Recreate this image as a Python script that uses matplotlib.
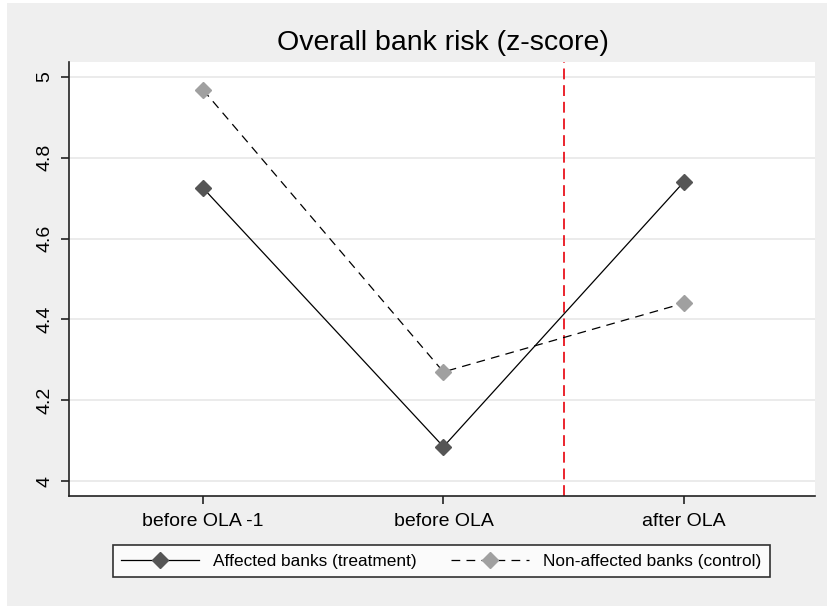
import matplotlib
matplotlib.use("Agg")
import matplotlib.pyplot as plt
from matplotlib.patches import Rectangle

plt.rcParams['font.family'] = ['Liberation Sans', 'DejaVu Sans']

categories = ["before OLA -1", "before OLA", "after OLA"]
affected = [4.725, 4.085, 4.74]
control = [4.968, 4.27, 4.44]
yticks = [4, 4.2, 4.4, 4.6, 4.8, 5]
ytick_labels = ["4", "4.2", "4.4", "4.6", "4.8", "5"]
event_line = 2.5

W, H = 827, 606
fig = plt.figure(figsize=(W / 100, H / 100), dpi=100)
fig.patch.set_facecolor("white")
bg = Rectangle((7 / W, 0), 1 - 7 / W, 1 - 3 / H, transform=fig.transFigure,
               facecolor="#efefef", edgecolor="none", zorder=-10)
fig.patches.append(bg)

ax = fig.add_axes([69 / W, 1 - 496 / H, (815 - 69) / W, (496 - 62) / H])
ax.set_zorder(1)
ax.set_facecolor("white")
x = [1, 2, 3]
ax.plot(x, affected, color="black", lw=0.9, ls="-", marker="D", markersize=8,
        markerfacecolor="#555555", markeredgecolor="#555555", label="Affected banks (treatment)", zorder=3)
ax.plot(x, control, color="black", lw=0.9, ls=(0, (7, 5)), marker="D", markersize=8,
        markerfacecolor="#a0a0a0", markeredgecolor="#a0a0a0", label="Non-affected banks (control)", zorder=3)
ax.axvline(event_line, color="#e8000b", lw=1.2, ls=(0, (6.5, 3.5)), zorder=2)

ax.set_xlim(0.442, 3.546)
ax.set_ylim(3.963, 5.037)
ax.set_xticks(x)
ax.set_xticklabels(categories, fontsize=14)
ax.set_yticks(yticks)
ax.set_yticklabels(ytick_labels, fontsize=14, rotation=90, va="center")
ax.grid(axis="y", color="#e8e8e8", lw=1.2)
ax.set_axisbelow(True)
for s in ["top", "right"]:
    ax.spines[s].set_visible(False)
for s in ["left", "bottom"]:
    ax.spines[s].set_linewidth(1.2)
    ax.spines[s].set_color("#222222")
ax.tick_params(axis="both", length=6, width=1.2, color="#222222", pad=6)
ax.tick_params(axis="y", pad=5)

fig.text(442.5 / W, 1 - 43 / H, "Overall bank risk (z-score)", ha="center", va="center", fontsize=20.5)

leg = fig.legend(loc="center", bbox_to_anchor=(441.5 / W, 1 - 561 / H), ncol=2, fontsize=12.4,
                 frameon=True, fancybox=False, edgecolor="black", handlelength=4.5,
                 columnspacing=2.0, borderpad=0.5, handletextpad=0.84)
leg.get_frame().set_linewidth(1.2)
leg.get_frame().set_facecolor("white")

fig.savefig("out.png", dpi=100, facecolor=fig.get_facecolor())
